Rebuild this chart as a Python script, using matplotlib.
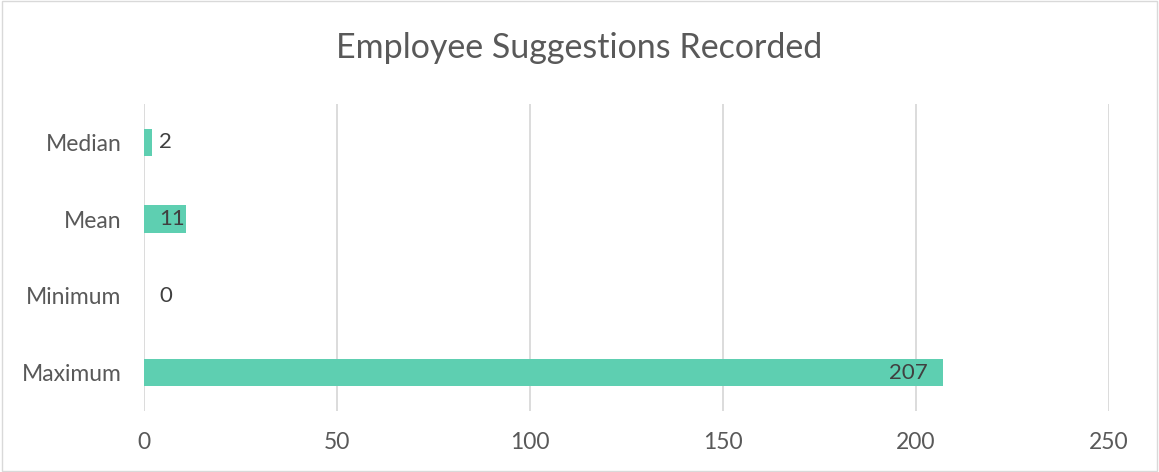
import matplotlib.pyplot as plt
from matplotlib.patches import Rectangle

categories = ['Median', 'Mean', 'Minimum', 'Maximum']
values = [2, 11, 0, 207]

bar_color = '#5ECFB1'
text_color = '#595959'
plt.rcParams['font.family'] = ['Lato', 'DejaVu Sans']

fig = plt.figure(figsize=(11.59, 4.72), dpi=100)
ax = fig.add_axes([0.1242, 0.1292, 0.8327, 0.6505])

ypos = list(range(len(categories)))
ax.barh(ypos, values, height=0.36, color=bar_color, zorder=2)

ax.set_xlim(0, 250)
ax.set_ylim(3.5, -0.5)
ax.set_xticks(range(0, 251, 50))
ax.set_yticks(ypos)
ax.set_yticklabels(categories)
ax.tick_params(axis='both', length=0, colors=text_color, labelsize=16.5)
ax.tick_params(axis='x', pad=15)
ax.tick_params(axis='y', pad=16)
ax.grid(axis='x', color='#D9D9D9', linewidth=1.3, zorder=0)
for s in ax.spines.values():
    s.set_visible(False)

# data labels (inside end, small bars pushed right)
for y, v in zip(ypos, values):
    if v > 30:
        ax.annotate(str(v), (v, y), xytext=(-11, 0), textcoords='offset points',
                    ha='right', va='center', fontsize=16, color='#404040')
    else:
        ax.annotate(str(v), (0, y), xytext=(11, 0), textcoords='offset points',
                    ha='left', va='center', fontsize=16, color='#404040')

fig.text(0.5, 0.898, 'Employee Suggestions Recorded', ha='center', va='center',
         fontsize=24.5, color=text_color)

fig.patches.append(Rectangle((0.002, 0.003), 0.996, 0.994, transform=fig.transFigure,
                             fill=False, edgecolor='#D9D9D9', linewidth=1))

fig.savefig('out.png', dpi=100)
